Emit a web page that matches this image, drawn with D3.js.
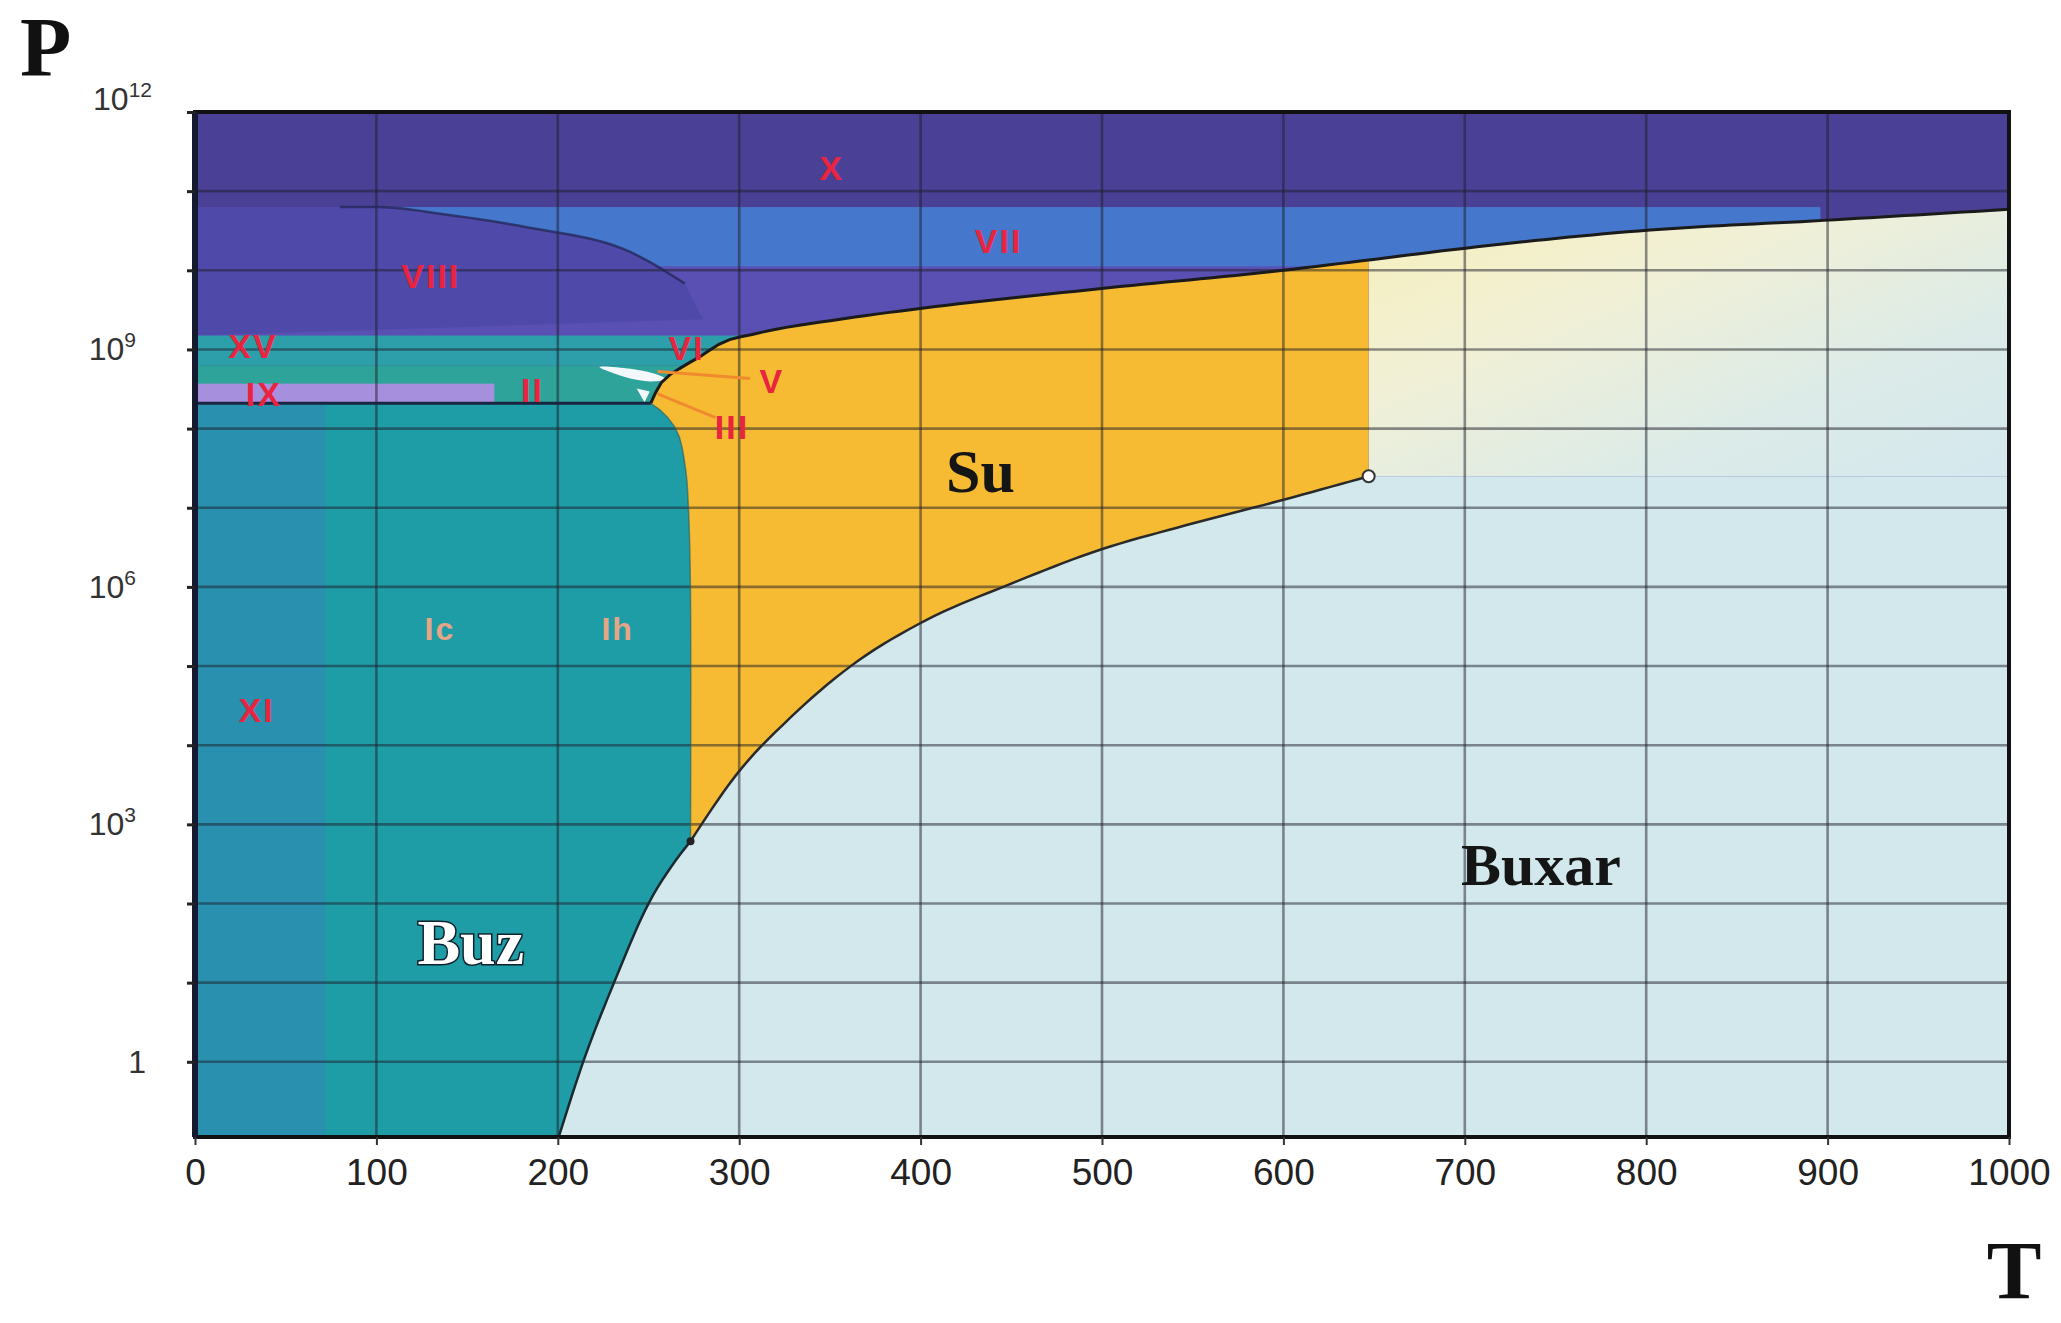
<!DOCTYPE html>
<html><head><meta charset="utf-8">
<script src="https://cdn.jsdelivr.net/npm/d3@7"></script>
<style>body{margin:0;background:#fff;} svg{display:block;}</style>
</head><body>
<svg id="c" width="2061" height="1323"></svg>
<script>
// ---------- data ----------
const tTicks = [0,100,200,300,400,500,600,700,800,900,1000];
const pLabelExp = [0,3,6,9,12];
const pGridExp = [0,1,2,3,4,5,6,7,8,9,10,11];
const P_MIN = Math.pow(10,-0.95), P_MAX = 1e12;

// phase boundaries [T (K), P (Pa)]
const sublimation = [[200.5,0.112],[214,1],[231,10],[251,110],[265,350],[273.16,611.657]];
const vaporization = [[273.16,611.657],[300,4.7e3],[327,2.1e4],[364,1.1e5],[400,3.5e5],[450,1.1e6],[500,3.0e6],[545,5.9e6],[600,1.26e7],[647,2.5e7]];
const meltingIh = [[273.16,611.657],[273.1,1e6],[272,1e7],[270.5,3e7],[266,9e7],[258,1.6e8],[251.2,2.09e8]];
const upperMelt = [[251.2,2.09e8],[256,3.5e8],[266,5.5e8],[278,8e8],[290,1.2e9],[310,1.6e9],[355,2.4e9],[400,3.3e9],[500,5.9e9],[600,1.0e10],[647,1.35e10],[700,1.9e10],[800,3.2e10],[900,4.3e10],[1000,5.9e10]];
const viiViiiCurve = [[80,6.3e10],[100,6.3e10],[140,5.0e10],[183,3.5e10],[241,1.66e10],[270,6.8e9]];
// horizontal band limits [Tmin, Tmax, Plow, Phigh]
const bandX = [0,1000,6.3e10,1e12];
const bandXright = [896,1000,1e10,6.3e10];
const bandVII = [0,896,1.12e10,6.3e10];
const bandVI = [0,400,6.3e8,1.5e9];
const bandII = [0,400,2.09e8,6.3e8];
const bandIX = [0,165,2.09e8,3.7e8];
const bandIh = [0,320,P_MIN,2.09e8];
const bandXI = [0,72,P_MIN,2.09e8];
// small white sliver (ice V/III region as drawn) [T, P]
const sliverV = [[223,6.0e8],[240,5.7e8],[255,4.8e8],[260,4.2e8],[251,3.95e8],[237,4.5e8]];
const sliverIII = [[243.5,3.2e8],[250.7,2.95e8],[247.8,2.15e8]];
// labels [text, T, P]
const phaseLabels = [["X",351,2.0e11],["VII",443,2.35e10],["VIII",130,8.5e9],["XV",32,1.12e9],["VI",271,1.05e9],
  ["IX",38,2.75e8],["II",186,3.1e8],["V",318,4.0e8],["III",296,1.05e8],["XI",34,2.8e4]];
const paleLabels = [["Ic",135,3.0e5],["Ih",233,3.0e5]];
const stateLabels = [["Buz",152,33],["Su",433,3.0e7],["Buxar",742,316]];
const arrowV = [[255,5.25e8],[306,4.3e8]];
const arrowIII = [[255,2.75e8],[287,1.38e8]];

// ---------- scales ----------
const svg = d3.select("#c");
const x = d3.scaleLinear().domain([0,1000]).range([195,2009]);
const y = d3.scaleLog().domain([P_MIN,P_MAX]).range([1137,112]);
const px = d => [x(d[0]), y(d[1])];

const defs = svg.append("defs");
defs.append("clipPath").attr("id","plot").append("rect")
  .attr("x",x(0)).attr("y",y(P_MAX)).attr("width",x(1000)-x(0)).attr("height",y(P_MIN)-y(P_MAX));
const g = defs.append("linearGradient").attr("id","sc").attr("x1",0).attr("y1",0).attr("x2",1).attr("y2",1);
g.append("stop").attr("offset",0).attr("stop-color","#f6efbb");
g.append("stop").attr("offset",0.35).attr("stop-color","#f1f0d6");
g.append("stop").attr("offset",0.7).attr("stop-color","#dcebe8");
g.append("stop").attr("offset",1).attr("stop-color","#d4e8ee");

function sample(pts, curve, n){
  const tmp = svg.append("path").attr("d", d3.line().curve(curve)(pts.map(px))).attr("fill","none");
  const node = tmp.node(), L = node.getTotalLength();
  const out = d3.range(n+1).map(i => { const p = node.getPointAtLength(L*i/n); return [p.x,p.y]; });
  tmp.remove();
  return out;
}
const line = d3.line();
const plot = svg.append("g").attr("clip-path","url(#plot)");
function band(b, color){
  plot.append("rect").attr("x",x(b[0])).attr("y",y(b[3])).attr("width",x(b[1])-x(b[0]))
    .attr("height",y(b[2])-y(b[3])).attr("fill",color);
}

// background (purple high-pressure ice)
band([0,1000,P_MIN,P_MAX],"#5a4fb3");
band(bandX,"#4a4197");
band(bandXright,"#4a4197");
band(bandVII,"#4577cc");

// VIII region
const viiiPts = [[x(0),y(6.3e10)]].concat(sample(viiViiiCurve,d3.curveMonotoneX,40))
  .concat([[x(280),y(2.4e9)],[x(0),y(1.5e9)]]);
plot.append("path").attr("d",line(viiiPts)+"Z").attr("fill","#4f4aaa");

band(bandVI,"#2c9fab");
band(bandII,"#2ea39a");
band(bandIX,"#a690de");
band(bandIh,"#1f9da6");
band(bandXI,"#2990b0");

// curves sampled
const subS = sample(sublimation,d3.curveMonotoneX,40);
const vapS = sample(vaporization,d3.curveMonotoneX,80);
const meltS = sample(meltingIh,d3.curveCatmullRom,40);
const topLiq = upperMelt.filter(d=>d[0]<=647);
const topSc = upperMelt.filter(d=>d[0]>=647);
const topLiqS = sample(topLiq,d3.curveMonotoneX,80);
const topScS = sample(topSc,d3.curveMonotoneX,60);
const crit = vaporization[vaporization.length-1];

// supercritical region
const scPts = [[x(crit[0]),y(crit[1])],[x(1000),y(crit[1])]].concat(topScS.slice().reverse());
plot.append("path").attr("d",line(scPts)+"Z").attr("fill","url(#sc)");

// liquid
const liqPts = vapS.concat(topLiqS.slice().reverse()).concat(meltS.slice().reverse());
plot.append("path").attr("d",line(liqPts)+"Z").attr("fill","#f6bb33");

// vapour
const vapPts = [[x(sublimation[0][0]),y(P_MIN)+20]].concat(subS).concat(vapS)
  .concat([[x(1000)+10,y(crit[1])],[x(1000)+10,y(P_MIN)+20]]);
plot.append("path").attr("d",line(vapPts)+"Z").attr("fill","#d3e8ec");

// white slivers
plot.append("path").attr("d",d3.line().curve(d3.curveCatmullRomClosed)(sliverV.map(px))).attr("fill","#f4f8fb");
plot.append("path").attr("d",line(sliverIII.map(px))+"Z").attr("fill","#f4f8fb");

// grid
const grid = svg.append("g").attr("clip-path","url(#plot)").attr("stroke","#1d1d28").attr("stroke-opacity",0.5).attr("stroke-width",2.6);
tTicks.slice(1,-1).forEach(t => grid.append("line").attr("x1",x(t)).attr("x2",x(t)).attr("y1",y(P_MAX)).attr("y2",y(P_MIN)));
pGridExp.forEach(e => grid.append("line").attr("x1",x(0)).attr("x2",x(1000)).attr("y1",y(Math.pow(10,e))).attr("y2",y(Math.pow(10,e))));

// boundary lines
const lines = svg.append("g").attr("clip-path","url(#plot)").attr("fill","none");
lines.append("path").attr("d",line(sample(upperMelt,d3.curveMonotoneX,120))).attr("stroke","#1b1b1b").attr("stroke-width",3);
lines.append("path").attr("d",line(vapS)).attr("stroke","#2a2a2a").attr("stroke-width",2.5);
lines.append("path").attr("d",line(subS)).attr("stroke","#1a2a33").attr("stroke-width",2.5);
lines.append("path").attr("d",line(meltS)).attr("stroke","#2a5a60").attr("stroke-width",1.5).attr("stroke-opacity",0.6);
lines.append("path").attr("d",line(sample(viiViiiCurve,d3.curveMonotoneX,40))).attr("stroke","#25285a").attr("stroke-width",2.5).attr("stroke-opacity",0.8);
lines.append("line").attr("x1",x(0)).attr("x2",x(251.2)).attr("y1",y(2.09e8)).attr("y2",y(2.09e8)).attr("stroke","#1a2540").attr("stroke-width",3);

// critical & triple points
svg.append("circle").attr("cx",x(crit[0])).attr("cy",y(crit[1])).attr("r",6).attr("fill","#fff").attr("stroke","#333").attr("stroke-width",2);
svg.append("circle").attr("cx",x(273.16)).attr("cy",y(611.657)).attr("r",4).attr("fill","#222");

// arrows
[arrowV, arrowIII].forEach(a => svg.append("path").attr("d",line(a.map(px))).attr("stroke","#f08a2e").attr("stroke-width",3).attr("fill","none"));

// frame
svg.append("rect").attr("x",x(0)).attr("y",y(P_MAX)).attr("width",x(1000)-x(0)).attr("height",y(P_MIN)-y(P_MAX))
  .attr("fill","none").attr("stroke","#111").attr("stroke-width",4);
svg.append("line").attr("x1",x(0)).attr("x2",x(0)).attr("y1",y(P_MAX)).attr("y2",y(P_MIN)).attr("stroke","#151a2e").attr("stroke-width",6);

// axes
const xAxis = svg.append("g").attr("transform",`translate(0,${y(P_MIN)})`)
  .call(d3.axisBottom(x).tickValues(tTicks).tickSize(8).tickPadding(14).tickFormat(d3.format("d")));
xAxis.select(".domain").remove();
xAxis.selectAll("line").attr("stroke","#333").attr("stroke-width",2);
xAxis.selectAll("text").attr("font-family","Liberation Sans, Arial, sans-serif").attr("font-size",37).attr("fill","#222");

const yAxis = svg.append("g").attr("transform",`translate(${x(0)},0)`)
  .call(d3.axisLeft(y).tickValues(pGridExp.concat([12]).map(e=>Math.pow(10,e))).tickSize(8).tickFormat(""));
yAxis.select(".domain").remove();
yAxis.selectAll("line").attr("stroke","#222").attr("stroke-width",3);
pLabelExp.forEach(e => {
  const t = svg.append("text").attr("x",e===0?146:(e===12?152:136)).attr("y",y(Math.pow(10,e))+ (e===12?-2:11))
    .attr("text-anchor","end").attr("font-family","Liberation Sans, Arial, sans-serif").attr("font-size",32).attr("fill","#333");
  if(e===0){ t.text("1"); }
  else { t.append("tspan").text("10"); t.append("tspan").attr("font-size",21).attr("dy",-13).text(e); }
});

// axis titles
svg.append("text").attr("x",20).attr("y",76).attr("font-family","Liberation Serif, serif").attr("font-weight","bold").attr("font-size",84).attr("fill","#111").text("P");
svg.append("text").attr("x",2014).attr("y",1298).attr("text-anchor","middle").attr("font-family","Liberation Serif, serif").attr("font-weight","bold").attr("font-size",82).attr("fill","#111").text("T");

// phase labels
const lab = svg.append("g").attr("font-family","Liberation Sans, Arial, sans-serif").attr("font-weight","bold").attr("text-anchor","middle");
phaseLabels.forEach(d => lab.append("text").attr("x",x(d[1])).attr("y",y(d[2])).attr("dy","0.36em")
  .attr("font-size",34).attr("letter-spacing",2).attr("fill","#e8243f").text(d[0]));
paleLabels.forEach(d => lab.append("text").attr("x",x(d[1])).attr("y",y(d[2])).attr("dy","0.36em")
  .attr("font-size",32).attr("letter-spacing",2).attr("fill","#e6a585").text(d[0]));

const st = svg.append("g").attr("font-family","Liberation Serif, serif").attr("font-weight","bold").attr("text-anchor","middle");
stateLabels.forEach((d,i) => {
  const t = st.append("text").attr("x",x(d[1])).attr("y",y(d[2])).attr("dy","0.35em").attr("font-size",i===0?64:(i===1?62:60)).text(d[0]);
  if(i===0) t.attr("fill","#fff").attr("stroke","#10202c").attr("stroke-width",3).attr("paint-order","stroke");
  else t.attr("fill","#151515");
});
</script>
</body></html>
